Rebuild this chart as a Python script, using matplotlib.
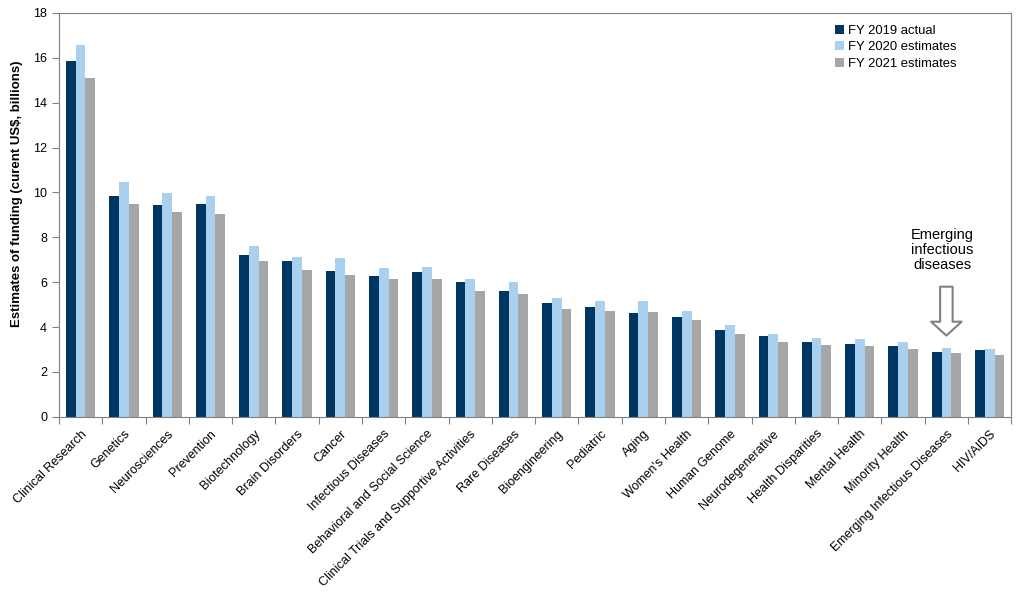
import numpy as np
import matplotlib
matplotlib.use('Agg')
import matplotlib.pyplot as plt

plt.rcParams['font.family'] = ['Liberation Sans', 'DejaVu Sans']

categories = ["Clinical Research", "Genetics", "Neurosciences", "Prevention", "Biotechnology",
              "Brain Disorders", "Cancer", "Infectious Diseases", "Behavioral and Social Science",
              "Clinical Trials and Supportive Activities", "Rare Diseases", "Bioengineering",
              "Pediatric", "Aging", "Women's Health", "Human Genome", "Neurodegenerative",
              "Health Disparities", "Mental Health", "Minority Health",
              "Emerging Infectious Diseases", "HIV/AIDS"]
fy2019 = [15.85, 9.84, 9.44, 9.49, 7.22, 6.95, 6.51, 6.29, 6.46, 6.02, 5.62,
          5.08, 4.91, 4.64, 4.46, 3.88, 3.58, 3.35, 3.26, 3.17, 2.90, 2.99]
fy2020 = [16.56, 10.47, 9.98, 9.84, 7.62, 7.13, 7.09, 6.64, 6.69, 6.15, 6.02,
          5.31, 5.17, 5.17, 4.73, 4.11, 3.67, 3.53, 3.49, 3.35, 3.08, 3.04]
fy2021 = [15.09, 9.49, 9.13, 9.04, 6.95, 6.55, 6.33, 6.15, 6.15, 5.62, 5.49,
          4.82, 4.73, 4.68, 4.33, 3.70, 3.35, 3.22, 3.17, 3.04, 2.86, 2.77]
series_names = ["FY 2019 actual", "FY 2020 estimates", "FY 2021 estimates"]
colors = ["#003662", "#A9D1EF", "#A6A6A6"]

fig = plt.figure(figsize=(10.24, 6.13), dpi=100)
ax = fig.add_axes([0.0576, 0.320, 0.930, 0.659])

x = np.arange(len(categories))
w = 0.225
for i, (vals, name, c) in enumerate(zip([fy2019, fy2020, fy2021], series_names, colors)):
    ax.bar(x + (i - 1) * w, vals, width=w, color=c, label=name, linewidth=0)

ax.set_xlim(-0.5, len(categories) - 0.5)
ax.set_ylim(0, 18)
ax.set_yticks(range(0, 19, 2))
# ticks sit between the groups, labels under the group centres
ax.set_xticks(np.arange(len(categories) + 1) - 0.5, minor=False)
ax.set_xticklabels([])
ax.set_xticks(x, minor=True)
ax.set_xticklabels(categories, minor=True, rotation=45, ha='right', rotation_mode='anchor', fontsize=9)
ax.tick_params(axis='x', which='minor', length=0, pad=8)
ax.tick_params(axis='x', which='major', length=5, color='#808080', direction='out')
ax.tick_params(axis='y', length=5, color='#808080', labelsize=9)
for s in ax.spines.values():
    s.set_color('#808080')

ax.set_ylabel("Estimates of funding (curent US$, billions)", fontsize=9.5, fontweight='bold')
ax.yaxis.set_label_coords(-0.038, 0.552)

leg = ax.legend(loc='upper right', frameon=False, fontsize=9.4, handlelength=0.7, handleheight=0.7,
                handletextpad=0.3, labelspacing=0.35, bbox_to_anchor=(0.955, 1.0))

ax.text(19.9, 7.45, "Emerging\ninfectious\ndiseases", ha='center', va='center', fontsize=10.5,
        linespacing=1.1)
ax.annotate("", xy=(20, 3.62), xytext=(20, 5.8),
            arrowprops=dict(arrowstyle='simple,head_width=1.1,head_length=0.5,tail_width=0.45',
                            mutation_scale=20, fc='white', ec='#808080', lw=1.5,
                            shrinkA=0, shrinkB=0))

plt.savefig("out.png", dpi=100)
